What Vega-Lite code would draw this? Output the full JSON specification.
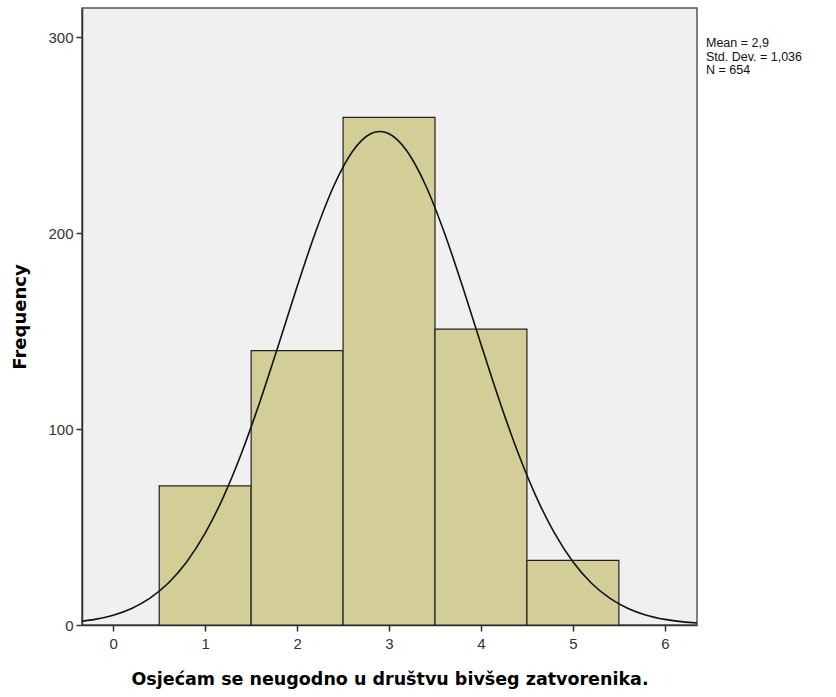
{
  "$schema": "https://vega.github.io/schema/vega-lite/v6.json",
  "width": 615,
  "height": 617,
  "autosize": "none",
  "padding": {"left": 82, "top": 8, "right": 139, "bottom": 72},
  "background": "white",
  "config": {
    "view": {"fill": "#F0F0F0", "stroke": "#555555", "strokeWidth": 1.5},
    "axis": {"grid": false, "labelFont": "Liberation Sans", "labelFontSize": 15, "labelColor": "#333333", "tickColor": "#333333", "tickSize": 6, "tickWidth": 1.5, "domainColor": "#333333", "domainWidth": 1.5, "titleFont": "DejaVu Sans", "titleFontWeight": "bold", "titleColor": "#000000"}
  },
  "datasets": {
    "bins": [
      {"bin_start": 0.5, "bin_end": 1.5, "count": 71},
      {"bin_start": 1.5, "bin_end": 2.5, "count": 140},
      {"bin_start": 2.5, "bin_end": 3.5, "count": 259},
      {"bin_start": 3.5, "bin_end": 4.5, "count": 151},
      {"bin_start": 4.5, "bin_end": 5.5, "count": 33}
    ],
    "curve": [
      {"x": -0.34, "y": 1.9}, {"x": -0.2, "y": 2.87}, {"x": 0.0, "y": 5.01}, {"x": 0.2, "y": 8.44},
      {"x": 0.4, "y": 13.7}, {"x": 0.6, "y": 21.42}, {"x": 0.8, "y": 32.28}, {"x": 1.0, "y": 46.85},
      {"x": 1.2, "y": 65.52}, {"x": 1.4, "y": 88.27}, {"x": 1.6, "y": 114.59}, {"x": 1.8, "y": 143.3},
      {"x": 2.0, "y": 172.66}, {"x": 2.2, "y": 200.4}, {"x": 2.4, "y": 224.12}, {"x": 2.6, "y": 241.46},
      {"x": 2.8, "y": 250.63}, {"x": 2.9, "y": 251.8}, {"x": 3.0, "y": 250.63}, {"x": 3.2, "y": 241.46},
      {"x": 3.4, "y": 224.12}, {"x": 3.6, "y": 200.4}, {"x": 3.8, "y": 172.66}, {"x": 4.0, "y": 143.3},
      {"x": 4.2, "y": 114.59}, {"x": 4.4, "y": 88.27}, {"x": 4.6, "y": 65.52}, {"x": 4.8, "y": 46.85},
      {"x": 5.0, "y": 32.28}, {"x": 5.2, "y": 21.42}, {"x": 5.4, "y": 13.7}, {"x": 5.6, "y": 8.44},
      {"x": 5.8, "y": 5.01}, {"x": 6.0, "y": 2.87}, {"x": 6.2, "y": 1.58}, {"x": 6.35, "y": 0.99}
    ],
    "stats": [
      {"label": "Mean = 2,9", "x": 6.35, "y": 300},
      {"label": "Std. Dev. = 1,036", "x": 6.35, "y": 293.1},
      {"label": "N = 654", "x": 6.35, "y": 286.2}
    ]
  },
  "layer": [
    {
      "data": {"name": "bins"},
      "mark": {"type": "rect", "fill": "#D3CE98", "stroke": "#222222", "strokeWidth": 1.2},
      "encoding": {
        "x": {"field": "bin_start", "type": "quantitative", "scale": {"domain": [-0.34, 6.35], "nice": false, "zero": false},
              "axis": {"values": [0, 1, 2, 3, 4, 5, 6], "format": "d", "title": "Osjećam se neugodno u društvu bivšeg zatvorenika.", "titleFontSize": 17.5, "titlePadding": 19, "labelPadding": 5}},
        "x2": {"field": "bin_end"},
        "y": {"field": "count", "type": "quantitative", "scale": {"domain": [0, 314.8], "nice": false},
              "axis": {"values": [0, 100, 200, 300], "format": "d", "title": "Frequency", "titleFontSize": 18, "titlePadding": 18, "labelPadding": 3}},
        "y2": {"datum": 0}
      }
    },
    {
      "data": {"name": "curve"},
      "mark": {"type": "line", "color": "#111111", "strokeWidth": 1.6, "interpolate": "monotone", "clip": true},
      "encoding": {
        "x": {"field": "x", "type": "quantitative"},
        "y": {"field": "y", "type": "quantitative"}
      }
    },
    {
      "data": {"name": "stats"},
      "mark": {"type": "text", "align": "left", "baseline": "top", "dx": 9, "font": "Liberation Sans", "fontSize": 12.5, "color": "#111111"},
      "encoding": {
        "x": {"field": "x", "type": "quantitative"},
        "y": {"field": "y", "type": "quantitative"},
        "text": {"field": "label"}
      }
    }
  ]
}
